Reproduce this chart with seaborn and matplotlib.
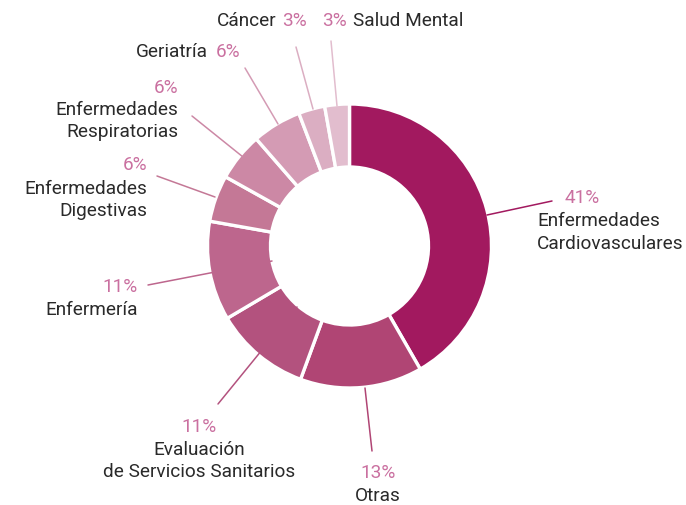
import matplotlib
matplotlib.use("Agg")
import matplotlib.pyplot as plt
import seaborn as sns

sns.set_theme(style="white")
plt.rcParams['font.family'] = ['Roboto', 'DejaVu Sans']

categories = ["Enfermedades\nCardiovasculares", "Otras", "Evaluación\nde Servicios Sanitarios",
              "Enfermería", "Enfermedades\nDigestivas", "Enfermedades\nRespiratorias",
              "Geriatría", "Cáncer", "Salud Mental"]
values = [41.7, 13.9, 10.9, 11.3, 5.3, 5.5, 5.6, 3.0, 2.8]
pct_labels = ["41%", "13%", "11%", "11%", "6%", "6%", "6%", "3%", "3%"]
colors = ["#A2195F", "#B04574", "#B3527E", "#BD668D", "#C47896",
          "#CC88A5", "#D49BB4", "#DBAEC2", "#E2BDCE"]

W, H = 686, 506
fig = plt.figure(figsize=(W / 100, H / 100), dpi=100)
ax = fig.add_axes([0, 0, 1, 1])

def Y(y):
    return H - y

ax.pie(values, colors=colors, startangle=90, counterclock=False,
       center=(349.5, Y(247)), radius=142, frame=True,
       wedgeprops=dict(width=63, edgecolor="white", linewidth=2.4))
ax.set_xlim(0, W)
ax.set_ylim(0, H)
ax.axis("off")

PCT = "#CA70A0"
TXT = "#2A2A2A"
fs = 13.7

# leader lines (start, end) in pixel coords
lines = [
    ((487, 216), (552, 202)),
    ((365, 389), (372, 452)),
    ((297, 308), (218, 405)),
    ((272, 262), (148, 286)),
    ((215, 198), (157, 177)),
    ((248, 162), (192, 117)),
    ((278, 125), (245, 69)),
    ((313, 110), (296, 48)),
    ((337, 107), (331, 42)),
]
for (p0, p1), c in zip(lines, colors):
    ax.plot([p0[0], p1[0]], [Y(p0[1]), Y(p1[1])], color=c, lw=1.1, zorder=3)

def t(x, y, s, color, ha, weight="normal"):
    ax.text(x, Y(y), s, color=color, ha=ha, va="center", fontsize=fs,
            fontweight=weight)

def p(x, y, s, ha):
    t(x, y, s, PCT, ha, "normal")

# Cardiovasculares
p(565, 198, pct_labels[0], "left")
t(537, 221, "Enfermedades", TXT, "left")
t(537, 244, "Cardiovasculares", TXT, "left")
# Otras
p(378, 473, pct_labels[1], "center")
t(378, 496, categories[1], TXT, "center")
# Evaluación
p(199, 427, pct_labels[2], "center")
t(199, 450, "Evaluación", TXT, "center")
t(199, 472, "de Servicios Sanitarios", TXT, "center")
# Enfermería
p(138, 287, pct_labels[3], "right")
t(138, 310, categories[3], TXT, "right")
# Digestivas
p(147, 165, pct_labels[4], "right")
t(147, 189, "Enfermedades", TXT, "right")
t(147, 211, "Digestivas", TXT, "right")
# Respiratorias
p(178, 88, pct_labels[5], "right")
t(178, 110, "Enfermedades", TXT, "right")
t(178, 132, "Respiratorias", TXT, "right")
# Geriatría
p(240, 52, pct_labels[6], "right")
t(208, 52, categories[6], TXT, "right")
# Cáncer
p(307, 21, pct_labels[7], "right")
t(276, 21, categories[7], TXT, "right")
# Salud Mental
p(322, 21, pct_labels[8], "left")
t(353, 21, categories[8], TXT, "left")

fig.savefig("out.png", dpi=100)
